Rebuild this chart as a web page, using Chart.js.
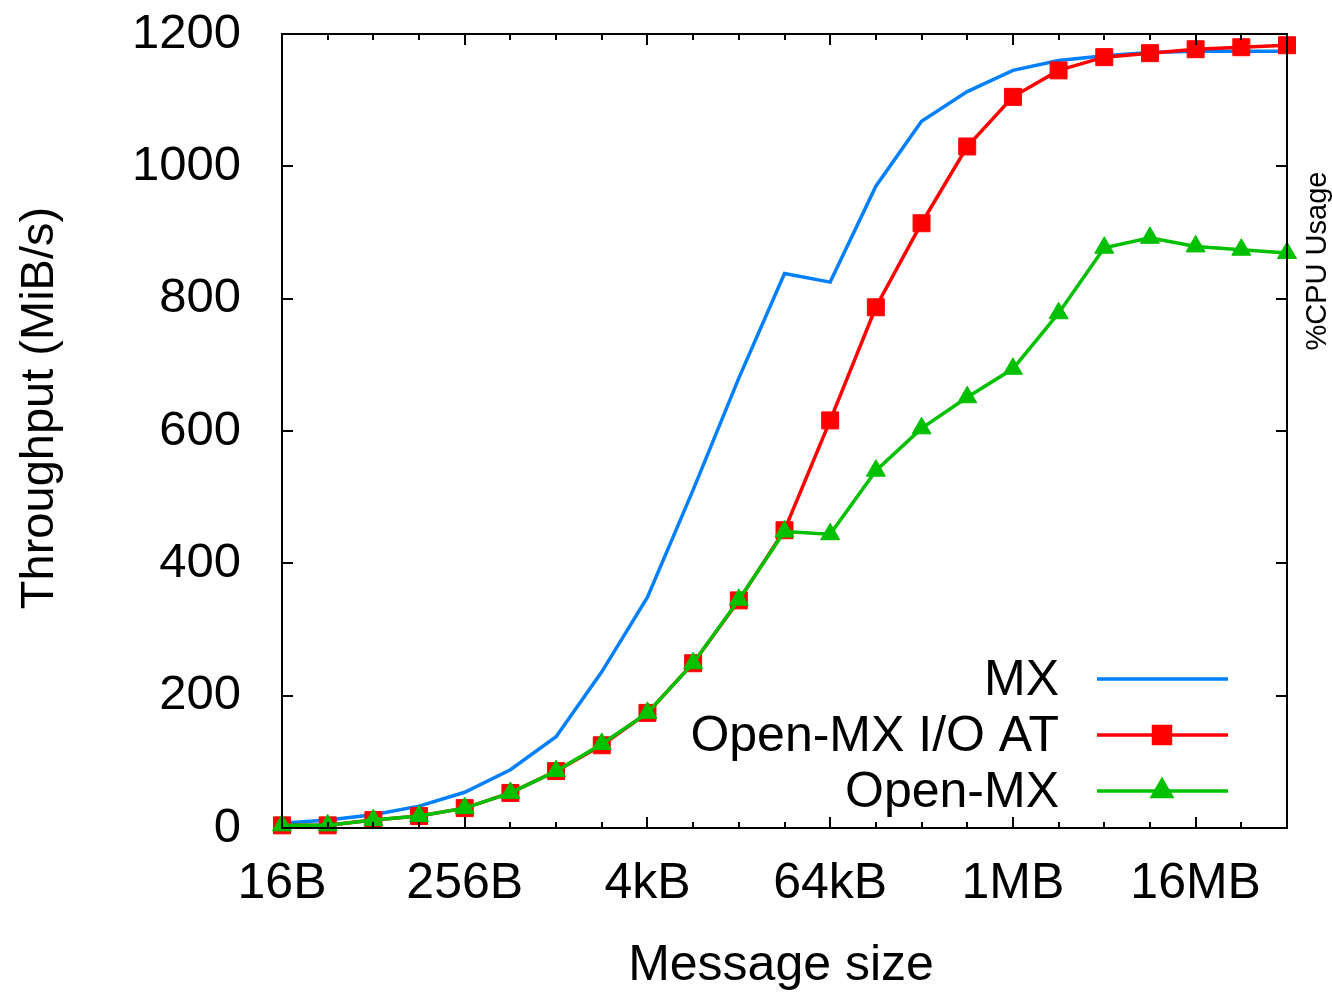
<!DOCTYPE html>
<html>
<head>
<meta charset="utf-8">
<script src="https://cdn.jsdelivr.net/npm/chart.js@4/dist/chart.umd.min.js"></script>
<style>
html,body{margin:0;padding:0;background:#fff;}
#wrap{width:1332px;height:994px;position:relative;}
</style>
</head>
<body>
<div id="wrap"><canvas id="c" width="1332" height="994"></canvas></div>
<script>
// message sizes as log2(bytes): 16B .. 64MB
const sizeLog2 = [4,5,6,7,8,9,10,11,12,13,14,15,16,17,18,19,20,21,22,23,24,25,26];
const tickLog2 = [4,8,12,16,20,24];
const tickLabels = ['16B','256B','4kB','64kB','1MB','16MB'];
const yTicks = [0,200,400,600,800,1000,1200];

const seriesNames = ['MX','Open-MX I/O AT','Open-MX'];
const mx       = [7,12,20,33,54,88,138,236,349,511,680,838,825,970,1068,1113,1145,1160,1167,1172,1174,1174,1174];
const omxIoat  = [4,4,12,18,30,53,86,125,174,249,344,450,616,787,914,1030,1105,1145,1165,1171,1177,1180,1183];
const omx      = [4,4,12,18,30,53,86,127,174,249,345,448,444,540,604,651,694,778,877,892,879,874,869];

const FONT = "'Liberation Sans', Arial, sans-serif";
const BLUE = '#0080ff', RED = '#ff0000', GREEN = '#00c000';

function pts(ys){ return sizeLog2.map((x,i)=>({x:x,y:ys[i]})); }

const decor = {
  id:'decor',
  afterDraw(chart){
    const ctx = chart.ctx, a = chart.chartArea;
    const xs = chart.scales.x, ys = chart.scales.y;
    ctx.save();
    ctx.strokeStyle = '#000';
    ctx.lineWidth = 2;
    ctx.beginPath();
    sizeLog2.forEach(v=>{
      const px = Math.round(xs.getPixelForValue(v));
      const len = tickLog2.includes(v) ? 11 : 6;
      ctx.moveTo(px, a.bottom); ctx.lineTo(px, a.bottom - len);
      ctx.moveTo(px, a.top); ctx.lineTo(px, a.top + len);
    });
    yTicks.forEach(v=>{
      const py = Math.round(ys.getPixelForValue(v));
      ctx.moveTo(a.left, py); ctx.lineTo(a.left + 11, py);
      ctx.moveTo(a.right, py); ctx.lineTo(a.right - 11, py);
    });
    ctx.stroke();
    ctx.strokeRect(a.left, a.top, a.right - a.left, a.bottom - a.top);
    ctx.fillStyle = '#000';
    ctx.textAlign = 'center';
    ctx.textBaseline = 'middle';
    ctx.font = '50px ' + FONT;
    ctx.fillText('Message size', 781, 966);
    ctx.save();
    ctx.translate(40, 408);
    ctx.rotate(-Math.PI/2);
    ctx.font = '47px ' + FONT;
    ctx.fillText('Throughput (MiB/s)', 0, 0);
    ctx.restore();
    ctx.save();
    ctx.translate(1318, 261);
    ctx.rotate(-Math.PI/2);
    ctx.font = '29px ' + FONT;
    ctx.fillText('%CPU Usage', 0, 0);
    ctx.restore();
    const rows = [679, 735, 791];
    const order = [2,1,0];
    ctx.font = '50px ' + FONT;
    ctx.textAlign = 'right';
    rows.forEach((ry,i)=>{
      const ds = chart.data.datasets[order[i]];
      ctx.fillStyle = '#000';
      ctx.fillText(ds.label, 1059, ry + 2);
      ctx.strokeStyle = ds.borderColor;
      ctx.lineWidth = 3.5;
      ctx.beginPath(); ctx.moveTo(1097, ry); ctx.lineTo(1228, ry); ctx.stroke();
      if (ds.pointRadius > 0) {
        ctx.fillStyle = ds.backgroundColor;
        ctx.strokeStyle = ds.backgroundColor;
        Chart.helpers.drawPoint(ctx, {pointStyle: ds.pointStyle, radius: ds.pointRadius, borderWidth: 1}, 1162, ry);
      }
    });
    ctx.restore();
  }
};

new Chart(document.getElementById('c'), {
  type: 'line',
  data: {
    datasets: [
      { label: seriesNames[2], data: pts(omx), borderColor: GREEN, backgroundColor: GREEN,
        borderWidth: 3.5, pointStyle: 'triangle', pointRadius: 11, pointBorderWidth: 1,
        pointBorderColor: GREEN, pointBackgroundColor: GREEN, tension: 0, clip: false, order: 0 },
      { label: seriesNames[1], data: pts(omxIoat), borderColor: RED, backgroundColor: RED,
        borderWidth: 3.5, pointStyle: 'rect', pointRadius: 12, pointBorderWidth: 1,
        pointBorderColor: RED, pointBackgroundColor: RED, tension: 0, clip: false, order: 1 },
      { label: seriesNames[0], data: pts(mx), borderColor: BLUE, backgroundColor: BLUE,
        borderWidth: 3.5, pointRadius: 0, tension: 0, clip: false, order: 2 }
    ]
  },
  options: {
    responsive: false,
    animation: false,
    events: [],
    layout: { padding: { left: 0, top: 34, right: 45, bottom: 0 } },
    plugins: { legend: { display: false }, tooltip: { enabled: false }, title: { display: false } },
    scales: {
      x: {
        type: 'linear', min: 4, max: 26,
        grid: { display: false, drawTicks: false },
        border: { display: false },
        afterBuildTicks(scale){ scale.ticks = tickLog2.map(v=>({value:v})); },
        afterFit(scale){ scale.height = 166; scale.paddingLeft = 0; scale.paddingRight = 0; },
        ticks: {
          autoSkip: false, maxRotation: 0, padding: 26, color: '#000',
          font: { family: FONT, size: 50 },
          callback(v){ const i = tickLog2.indexOf(v); return i >= 0 ? tickLabels[i] : ''; }
        }
      },
      y: {
        min: 0, max: 1200,
        grid: { display: false, drawTicks: false },
        border: { display: false },
        afterBuildTicks(scale){ scale.ticks = yTicks.map(v=>({value:v})); },
        afterFit(scale){ scale.width = 282; scale.paddingTop = 0; scale.paddingBottom = 0; },
        ticks: { padding: 41, color: '#000', font: { family: FONT, size: 49 },
          callback(v){ return String(v); } }
      }
    }
  },
  plugins: [decor]
});
</script>
</body>
</html>
